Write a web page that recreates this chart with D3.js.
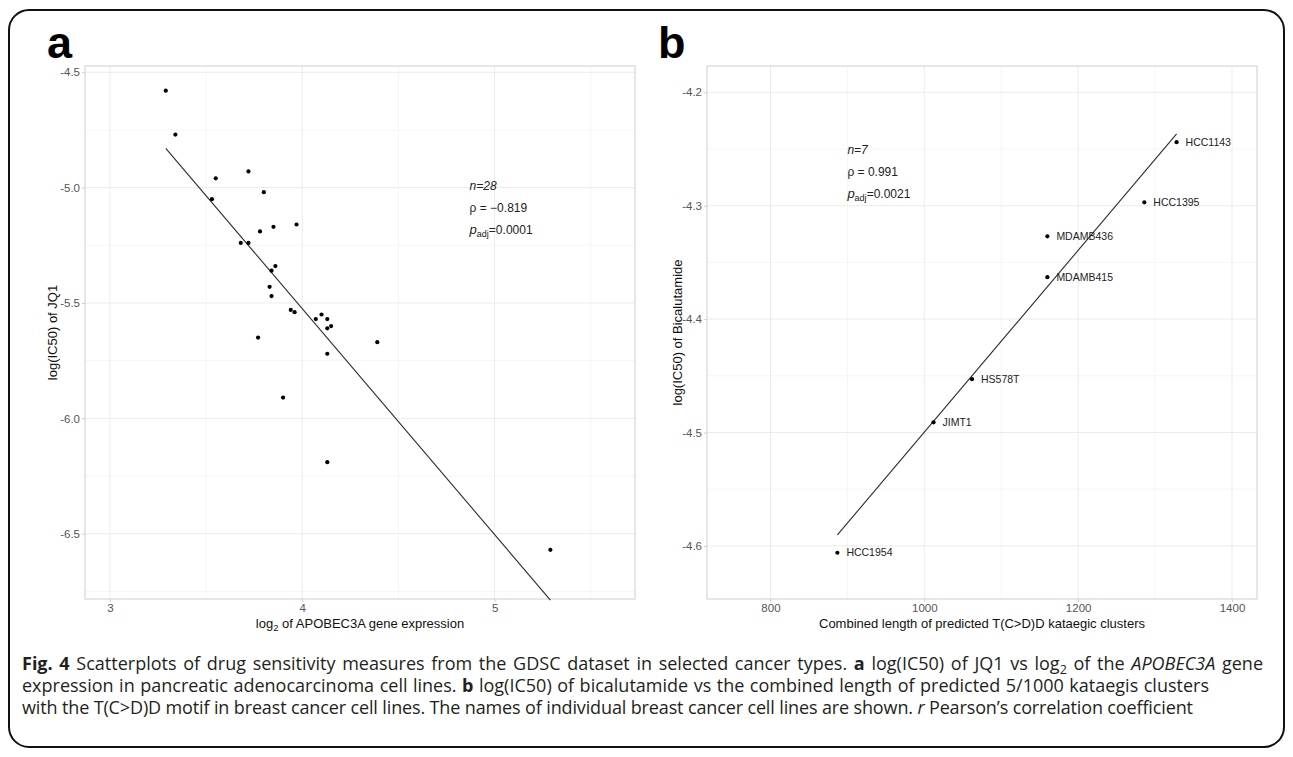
<!DOCTYPE html>
<html><head><meta charset="utf-8">
<script src="https://cdn.jsdelivr.net/npm/d3@7"></script>
<style>
body{margin:0;background:#fff;}
text{font-family:"Liberation Sans",Arial,sans-serif;}
.cap{font-family:"Open Sans","Noto Sans",sans-serif;fill:#231f20;}
</style></head><body>
<svg id="c" width="1293" height="757"></svg>
<script>
// ---- Panel a data: log2 APOBEC3A expression vs log(IC50) of JQ1 ----
const apobecExpr = [3.29,3.34,3.55,3.72,3.53,3.80,3.78,3.85,3.97,3.68,3.72,3.86,3.84,3.83,3.84,3.94,3.96,4.07,4.10,4.13,4.13,4.15,4.39,4.13,3.77,3.90,4.13,5.29];
const jq1IC50   = [-4.58,-4.77,-4.96,-4.93,-5.05,-5.02,-5.19,-5.17,-5.16,-5.24,-5.24,-5.34,-5.36,-5.43,-5.47,-5.53,-5.54,-5.57,-5.55,-5.57,-5.61,-5.60,-5.67,-5.72,-5.65,-5.91,-6.19,-6.57];
const jq1Fit = [-1.609,-0.979];          // intercept, slope of the drawn fit line
const aXTicks = [3,4,5];
const aXMinor = [3.5,4.5,5.5];
const aYTicks = [-4.5,-5.0,-5.5,-6.0,-6.5];
const aYMinor = [-4.75,-5.25,-5.75,-6.25,-6.75];
const aXLim = [3,5.6];
const aYLim = [-6.783,-4.473];
const aStats = ["n=28","ρ = −0.819","0.0001"];

// ---- Panel b data: combined kataegic cluster length vs log(IC50) of Bicalutamide ----
const cellLines   = ["HCC1954","JIMT1","HS578T","MDAMB415","MDAMB436","HCC1395","HCC1143"];
const kataegisLen = [887,1012,1062,1160,1160,1286,1328];
const bicaIC50    = [-4.606,-4.491,-4.453,-4.363,-4.327,-4.297,-4.244];
const bicaFit = [-5.3015,0.0008018];      // intercept, slope of the drawn fit line
const bXTicks = [800,1000,1200,1400];
const bXMinor = [900,1100,1300];
const bYTicks = [-4.2,-4.3,-4.4,-4.5,-4.6];
const bYMinor = [-4.25,-4.35,-4.45,-4.55];
const bXLim = [750,1400];
const bYLim = [-4.6468,-4.1768];
const bStats = ["n=7","ρ = 0.991","0.0021"];

const svg = d3.select("#c");
svg.append("rect").attr("x",9).attr("y",10).attr("width",1275).attr("height",737)
  .attr("rx",20).attr("fill","#fff").attr("stroke","#111").attr("stroke-width",2);

function expand(lim){const r=lim[1]-lim[0];return [lim[0]-0.05*r, lim[1]+0.05*r];}

function panel(o){
  const g = svg.append("g");
  const x = d3.scaleLinear().domain(o.xdom).range([o.L,o.R]);
  const y = d3.scaleLinear().domain(o.ydom).range([o.B,o.T]);
  g.append("rect").attr("x",o.L).attr("y",o.T).attr("width",o.R-o.L).attr("height",o.B-o.T).attr("fill","#fff");
  // grid
  g.selectAll(".gxm").data(o.xMinor).join("line").attr("x1",d=>x(d)).attr("x2",d=>x(d)).attr("y1",o.T).attr("y2",o.B).attr("stroke","#f3f3f3").attr("stroke-width",0.8);
  g.selectAll(".gym").data(o.yMinor).join("line").attr("y1",d=>y(d)).attr("y2",d=>y(d)).attr("x1",o.L).attr("x2",o.R).attr("stroke","#f3f3f3").attr("stroke-width",0.8);
  g.selectAll(".gx").data(o.xTicks).join("line").attr("x1",d=>x(d)).attr("x2",d=>x(d)).attr("y1",o.T).attr("y2",o.B).attr("stroke","#ebebeb").attr("stroke-width",1);
  g.selectAll(".gy").data(o.yTicks).join("line").attr("y1",d=>y(d)).attr("y2",d=>y(d)).attr("x1",o.L).attr("x2",o.R).attr("stroke","#ebebeb").attr("stroke-width",1);
  // axes
  const ax = g.append("g").attr("transform",`translate(0,${o.B})`)
    .call(d3.axisBottom(x).tickValues(o.xTicks).tickSize(3).tickPadding(2).tickFormat(d=>String(d)));
  const ay = g.append("g").attr("transform",`translate(${o.L},0)`)
    .call(d3.axisLeft(y).tickValues(o.yTicks).tickSize(3).tickPadding(2).tickFormat(d=>d.toFixed(1)));
  [ax,ay].forEach(a=>{a.select(".domain").remove();
    a.selectAll(".tick line").attr("stroke","#cfcfcf");
    a.selectAll(".tick text").attr("fill","#555").style("font-size","11.5px").style("font-family","Liberation Sans, Arial, sans-serif");});
  // border
  g.append("rect").attr("x",o.L).attr("y",o.T).attr("width",o.R-o.L).attr("height",o.B-o.T)
    .attr("fill","none").attr("stroke","#d6d6d6").attr("stroke-width",1.2);
  // fit line over the data range
  const ext = d3.extent(o.xs);
  g.append("line").attr("x1",x(ext[0])).attr("y1",y(o.fit[0]+o.fit[1]*ext[0])).attr("x2",x(ext[1])).attr("y2",y(o.fit[0]+o.fit[1]*ext[1]))
    .attr("stroke","#2b2b2b").attr("stroke-width",1.1);
  // points
  g.selectAll(".pt").data(o.xs).join("circle").attr("cx",d=>x(d)).attr("cy",(d,i)=>y(o.ys[i])).attr("r",2.1).attr("fill","#000");
  if(o.labels){
    g.selectAll(".lb").data(o.labels).join("text").attr("x",(d,i)=>x(o.xs[i])+9).attr("y",(d,i)=>y(o.ys[i])).attr("dy","0.35em")
      .style("font-size","10.5px").attr("fill","#222").text(d=>d);
  }
  // stats annotation
  const sx = x(o.statPos[0]), sy = y(o.statPos[1]);
  const st = g.append("g").attr("fill","#222").style("font-size","12px");
  st.append("text").attr("x",sx).attr("y",sy).style("font-style","italic").text(o.stats[0]);
  st.append("text").attr("x",sx).attr("y",sy+22).text(o.stats[1]);
  const pt = st.append("text").attr("x",sx).attr("y",sy+44);
  pt.append("tspan").style("font-style","italic").style("font-size","13px").text("p");
  pt.append("tspan").attr("dy",3).style("font-size","9px").text("adj");
  pt.append("tspan").attr("dy",-3).text("="+o.stats[2]);
  // axis titles
  const xt = g.append("text").attr("x",(o.L+o.R)/2).attr("y",o.B+29).attr("text-anchor","middle").style("font-size","13px").attr("fill","#111");
  o.xTitle(xt);
  g.append("text").attr("transform",`translate(${o.yTitleX},${(o.T+o.B)/2}) rotate(-90)`).attr("text-anchor","middle")
    .style("font-size","13px").attr("fill","#111").text(o.yTitle);
  // panel tag
  svg.append("text").attr("x",o.tagX).attr("y",58).style("font-size","45px").style("font-weight","bold").attr("fill","#000").text(o.tag);
}

panel({L:85,R:635,T:66,B:599, xdom:expand(aXLim), ydom:aYLim,
  xTicks:aXTicks,xMinor:aXMinor,yTicks:aYTicks,yMinor:aYMinor,
  xs:apobecExpr, ys:jq1IC50, fit:jq1Fit, stats:aStats, statPos:[4.87,-5.01],
  xTitle:t=>{t.append("tspan").text("log");t.append("tspan").attr("dy",3).style("font-size","9.5px").text("2");t.append("tspan").attr("dy",-3).text(" of APOBEC3A gene expression");},
  yTitle:"log(IC50) of JQ1", yTitleX:57, tag:"a", tagX:47});
panel({L:707,R:1257,T:66,B:599, xdom:expand(bXLim), ydom:bYLim,
  xTicks:bXTicks,xMinor:bXMinor,yTicks:bYTicks,yMinor:bYMinor,
  xs:kataegisLen, ys:bicaIC50, fit:bicaFit, labels:cellLines, stats:bStats, statPos:[900,-4.2543],
  xTitle:t=>t.text("Combined length of predicted T(C>D)D kataegic clusters"),
  yTitle:"log(IC50) of Bicalutamide", yTitleX:682, tag:"b", tagX:658});

// caption
const capLines = [
  [["b","Fig. 4"],["n"," Scatterplots of drug sensitivity measures from the GDSC dataset in selected cancer types. "],["b","a"],["n"," log(IC50) of JQ1 vs log"],["sub","2"],["up"," of the "],["i","APOBEC3A"],["n"," gene"]],
  [["n","expression in pancreatic adenocarcinoma cell lines. "],["b","b"],["n"," log(IC50) of bicalutamide vs the combined length of predicted 5/1000 kataegis clusters"]],
  [["n","with the T(C>D)D motif in breast cancer cell lines. The names of individual breast cancer cell lines are shown. "],["i","r"],["n"," Pearson’s correlation coefficient"]]
];
const capRight = [1263,1209,1147];
capLines.forEach((ln,k)=>{
  const t = svg.append("text").attr("class","cap").attr("x",22).attr("y",670+k*22).style("font-size","18px");
  let spaces = 0, chars = 0;
  ln.forEach(([s,txt])=>{
    const sp = t.append("tspan").text(txt);
    spaces += (txt.match(/ /g)||[]).length; chars += txt.length;
    if(s==="b") sp.style("font-weight","bold");
    if(s==="i") sp.style("font-style","italic");
    if(s==="sub") sp.attr("dy",4).style("font-size","12.5px");
    if(s==="up") sp.attr("dy",-4);
  });
  const w = t.node().getComputedTextLength();
  const diff = capRight[k]-22-w;
  if(diff>0){
    t.style("word-spacing",Math.min(2.5,diff/spaces)+"px");
  } else {
    // only a light tightening, keeping normal word gaps readable
    t.style("letter-spacing",(diff*0.3/chars)+"px");
  }
});
</script>
</body></html>
